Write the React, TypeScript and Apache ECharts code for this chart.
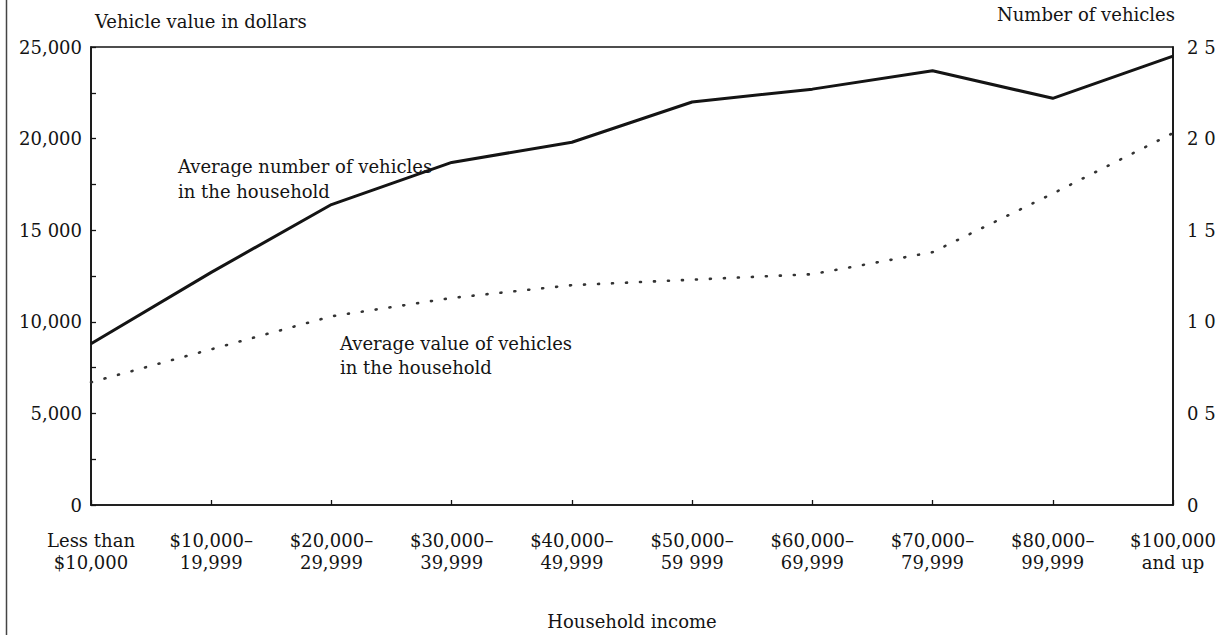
import React, { useEffect, useRef } from "react";
import * as echarts from "echarts";

const categories = [
  "Less than\n$10,000",
  "$10,000–\n19,999",
  "$20,000–\n29,999",
  "$30,000–\n39,999",
  "$40,000–\n49,999",
  "$50,000–\n59 999",
  "$60,000–\n69,999",
  "$70,000–\n79,999",
  "$80,000–\n99,999",
  "$100,000\nand up",
];

// Average number of vehicles in the household (right axis)
const avgNumberOfVehicles = [0.88, 1.27, 1.64, 1.87, 1.98, 2.2, 2.27, 2.37, 2.22, 2.45];
// Average value of vehicles in the household (left axis, dollars)
const avgValueOfVehicles = [6700, 8500, 10300, 11300, 12000, 12300, 12600, 13800, 17000, 20300];

const leftTickLabels: Record<number, string> = {
  0: "0",
  5000: "5,000",
  10000: "10,000",
  15000: "15 000",
  20000: "20,000",
  25000: "25,000",
};
const rightTickLabels: Record<string, string> = {
  "0": "0",
  "0.5": "0 5",
  "1": "1 0",
  "1.5": "1 5",
  "2": "2 0",
  "2.5": "2 5",
};

const FONT = "DejaVu Serif";
const INK = "#141414";

export default function App() {
  const ref = useRef<HTMLDivElement>(null);

  useEffect(() => {
    if (!ref.current) return;
    const chart = echarts.init(ref.current, null, { renderer: "svg" });
    chart.setOption({
      animation: false,
      backgroundColor: "#ffffff",
      textStyle: { fontFamily: FONT, color: INK },
      grid: {
        left: 91,
        right: 55,
        top: 47,
        bottom: 120,
        show: true,
        borderColor: INK,
        borderWidth: 1.6,
      },
      xAxis: {
        type: "category",
        data: categories,
        boundaryGap: false,
        name: "Household income",
        nameLocation: "middle",
        nameGap: 107,
        nameTextStyle: { fontFamily: FONT, fontSize: 18, color: INK },
        axisLine: { lineStyle: { color: INK, width: 1.6 } },
        axisTick: { inside: true, length: 5, lineStyle: { color: INK, width: 1.3 } },
        axisLabel: {
          fontFamily: FONT,
          fontSize: 18,
          color: INK,
          lineHeight: 22,
          margin: 24,
          interval: 0,
        },
        splitLine: { show: false },
      },
      yAxis: [
        {
          type: "value",
          min: 0,
          max: 25000,
          interval: 2500,
          position: "left",
          axisLine: { show: true, lineStyle: { color: INK, width: 1.6 } },
          axisTick: { show: true, inside: true, length: 5, lineStyle: { color: INK, width: 1.3 } },
          axisLabel: {
            fontFamily: FONT,
            fontSize: 18,
            color: INK,
            margin: 9,
            formatter: (v: number) => leftTickLabels[v] ?? "",
          },
          splitLine: { show: false },
        },
        {
          type: "value",
          min: 0,
          max: 2.5,
          interval: 0.5,
          position: "right",
          axisLine: { show: true, lineStyle: { color: INK, width: 1.6 } },
          axisTick: { show: false },
          axisLabel: {
            fontFamily: FONT,
            fontSize: 18,
            color: INK,
            margin: 14,
            formatter: (v: number) => rightTickLabels[String(Math.round(v * 10) / 10)] ?? "",
          },
          splitLine: { show: false },
        },
      ],
      series: [
        {
          name: "Average number of vehicles in the household",
          type: "line",
          yAxisIndex: 1,
          data: avgNumberOfVehicles,
          symbol: "none",
          lineStyle: { color: INK, width: 3 },
          z: 3,
        },
        {
          name: "Average value of vehicles in the household",
          type: "line",
          yAxisIndex: 0,
          data: avgValueOfVehicles,
          symbol: "none",
          lineStyle: { color: "#333333", width: 2.6, type: [1, 13], cap: "round" },
          z: 2,
        },
      ],
      graphic: [
        {
          type: "line",
          shape: { x1: 6.5, y1: 0, x2: 6.5, y2: 635 },
          style: { stroke: "#444", lineWidth: 1.5 },
        },
        {
          type: "text",
          left: 95,
          top: 12,
          style: { text: "Vehicle value in dollars", font: `18px "${FONT}"`, fill: INK },
        },
        {
          type: "text",
          right: 53,
          top: 5,
          style: { text: "Number of vehicles", font: `18px "${FONT}"`, fill: INK },
        },
        {
          type: "text",
          left: 178,
          top: 154,
          style: {
            text: "Average number of vehicles\nin the household",
            font: `18px "${FONT}"`,
            lineHeight: 25,
            fill: INK,
          },
        },
        {
          type: "text",
          left: 340,
          top: 331,
          style: {
            text: "Average value of vehicles\nin the household",
            font: `18px "${FONT}"`,
            lineHeight: 24,
            fill: INK,
          },
        },
      ],
    });
    return () => chart.dispose();
  }, []);

  return (
    <div
      ref={ref}
      style={{ position: "fixed", left: 0, top: 0, width: 1228, height: 635, background: "#fff" }}
    />
  );
}
